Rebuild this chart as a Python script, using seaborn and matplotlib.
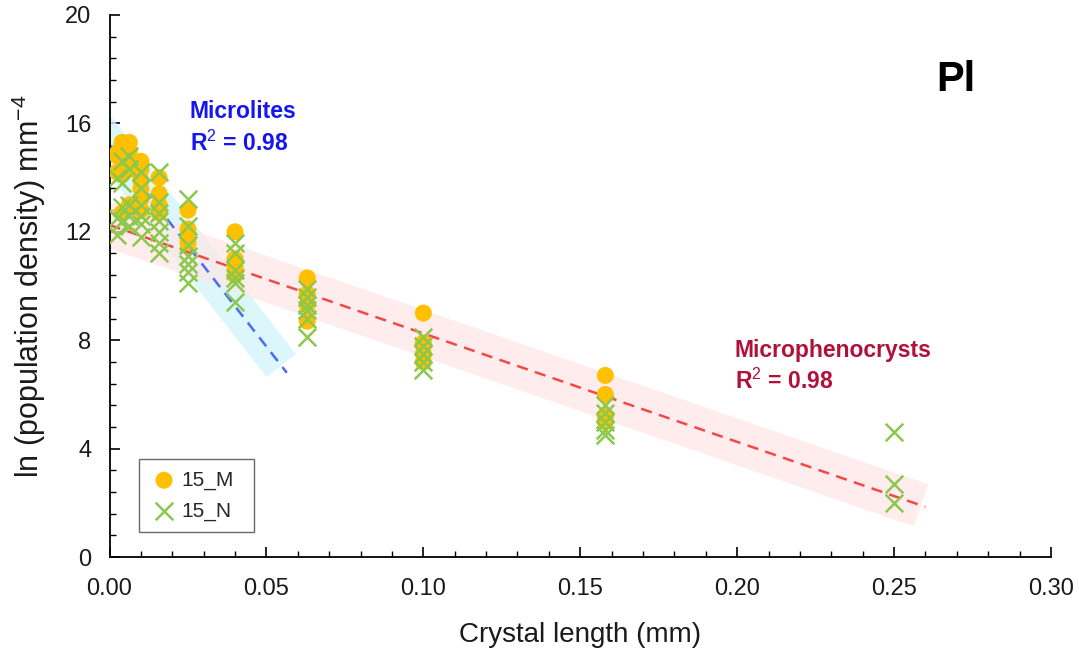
import numpy as np
import pandas as pd
import matplotlib
matplotlib.use("Agg")
import matplotlib.pyplot as plt
import seaborn as sns

# ---------------- data ----------------
m_x = [0.0025]*3 + [0.004]*4 + [0.0063]*5 + [0.01]*6 + [0.0158]*4 + [0.025]*4 + [0.04]*4 + [0.063]*4 + [0.1]*4 + [0.158]*4
m_y = [14.9, 14.8, 14.2,
       15.3, 14.6, 14.1, 12.7,
       15.3, 15.0, 14.7, 14.3, 13.0,
       14.6, 14.3, 13.9, 13.6, 13.2, 12.8,
       14.0, 13.4, 13.0, 12.7,
       12.8, 12.1, 11.8, 11.6,
       12.0, 11.0, 10.7, 10.4,
       10.3, 9.7, 9.3, 8.7,
       9.0, 7.9, 7.5, 7.2,
       6.7, 6.0, 5.2, 5.0]

n_x = [0.0025]*3 + [0.004]*4 + [0.0063]*5 + [0.01]*6 + [0.0158]*7 + [0.025]*7 + [0.04]*6 + [0.063]*6 + [0.1]*5 + [0.158]*5 + [0.25]*3
n_y = [14.0, 12.5, 11.9,
       14.6, 13.8, 12.9, 12.4,
       14.8, 14.3, 13.0, 12.6, 12.2,
       14.2, 13.6, 13.0, 12.6, 12.3, 11.8,
       14.2, 13.1, 12.7, 12.4, 12.0, 11.6, 11.2,
       13.2, 12.2, 11.5, 11.1, 10.8, 10.5, 10.1,
       11.6, 11.2, 10.6, 10.3, 10.1, 9.4,
       9.9, 9.6, 9.3, 9.1, 8.8, 8.1,
       8.1, 7.8, 7.5, 7.2, 6.9,
       5.6, 5.3, 5.0, 4.7, 4.5,
       4.6, 2.7, 2.0]

# regression fits (intercept, slope, x-range)
micro_fit = dict(intercept=15.2, slope=-148.7, x0=-0.006, x1=0.0565)
pheno_fit = dict(intercept=12.25, slope=-40.0, x0=-0.006, x1=0.260)
band_micro_x1 = 0.0547
band_pheno_x1 = 0.2586

x_ticks = [0.00, 0.05, 0.10, 0.15, 0.20, 0.25, 0.30]
y_ticks = [0, 4, 8, 12, 16, 20]

# ---------------- style ----------------
sns.set_theme(style="white")
plt.rcParams['font.family'] = ['Liberation Sans', 'DejaVu Sans']
plt.rcParams['mathtext.fontset'] = 'custom'
plt.rcParams['mathtext.rm'] = 'Liberation Sans'
plt.rcParams['mathtext.bf'] = 'Liberation Sans:bold'

fig = plt.figure(figsize=(10.79, 6.55), dpi=100)
ax = fig.add_axes([0.1015, 0.1496, 0.8725, 0.8275])

def fit_line(f, x1=None):
    xs = np.array([f['x0'], f['x1'] if x1 is None else x1])
    return xs, f['intercept'] + f['slope'] * xs

# bands
bx, by = fit_line(micro_fit, band_micro_x1)
ax.plot(bx, by, color='#D2F6FB', lw=27, alpha=0.8, solid_capstyle='butt', zorder=1)
px_, py_ = fit_line(pheno_fit, band_pheno_x1)
ax.plot(px_, py_, color='#FFE6E6', lw=32, alpha=0.7, solid_capstyle='butt', zorder=1)

# fit lines
lx = np.clip(fit_line(micro_fit)[0], 0, None)
ax.plot(lx, micro_fit['intercept'] + micro_fit['slope'] * lx,
        color='#4A6CF0', lw=1.8, ls=(0, (4.5, 3)), zorder=2)
lx2 = np.clip(fit_line(pheno_fit)[0], 0, None)
ax.plot(lx2, pheno_fit['intercept'] + pheno_fit['slope'] * lx2,
        color='#F44848', lw=1.8, ls=(0, (4.5, 3)), zorder=2)

# points
dm = pd.DataFrame({'x': m_x, 'y': m_y})
dn = pd.DataFrame({'x': n_x, 'y': n_y})
sns.scatterplot(data=dm, x='x', y='y', ax=ax, marker='o', s=150, color='#FFC000',
                edgecolor='none', label='15_M', zorder=3)
sns.scatterplot(data=dn, x='x', y='y', ax=ax, marker='x', s=160, color='#8CC84B',
                linewidth=1.8, label='15_N', zorder=4)

# axes
ax.set_xlim(0, 0.30)
ax.set_ylim(0, 20)
ax.set_xticks(x_ticks)
ax.set_xticklabels([f"{v:.2f}" for v in x_ticks])
ax.set_yticks(y_ticks)
ax.set_xticks(np.arange(0, 0.3001, 0.01), minor=True)
ax.set_yticks(np.arange(0, 20.001, 0.8), minor=True)
ax.tick_params(axis='x', which='both', bottom=True, top=False)
ax.tick_params(axis='y', which='both', left=True, right=False)
ax.tick_params(axis='both', which='major', direction='in', length=7, width=1.2,
               labelsize=17, color='black', labelcolor='#1a1a1a')
ax.tick_params(axis='x', which='major', pad=15)
ax.tick_params(axis='y', which='major', pad=13)
ax.tick_params(axis='both', which='minor', direction='in', length=4, width=1.0, color='black')
for s in ['top', 'right']:
    ax.spines[s].set_visible(False)
for s in ['left', 'bottom']:
    ax.spines[s].set_color('black')
    ax.spines[s].set_linewidth(1.3)

ax.set_xlabel('Crystal length (mm)', fontsize=20, labelpad=16, color='#1a1a1a')
ax.set_ylabel('ln (population density) mm$^{-4}$', fontsize=22, labelpad=12, color='#1a1a1a')

# annotations
ax.text(0.0256, 16.2, 'Microlites', color='#1515F0', fontsize=16.5, fontweight='bold')
ax.text(0.0256, 15.0, 'R$^{2}$ = 0.98', color='#1515F0', fontsize=16.5, fontweight='bold')
ax.text(0.1993, 7.38, 'Microphenocrysts', color='#B0103A', fontsize=16.5, fontweight='bold')
ax.text(0.1993, 6.2, 'R$^{2}$ = 0.98', color='#B0103A', fontsize=16.5, fontweight='bold')
ax.text(0.2636, 17.2, 'Pl', color='black', fontsize=30, fontweight='bold')

leg = ax.legend(loc='lower left', bbox_to_anchor=(0.0313, 0.046, 0.122, 0.133), mode='expand',
                frameon=True, fancybox=False, fontsize=15, handletextpad=0.2, borderpad=0.55,
                labelspacing=0.55, handlelength=1.3, borderaxespad=0)
leg.get_frame().set_edgecolor('#444444')
leg.get_frame().set_linewidth(1.0)

fig.savefig('out.png', dpi=100)
